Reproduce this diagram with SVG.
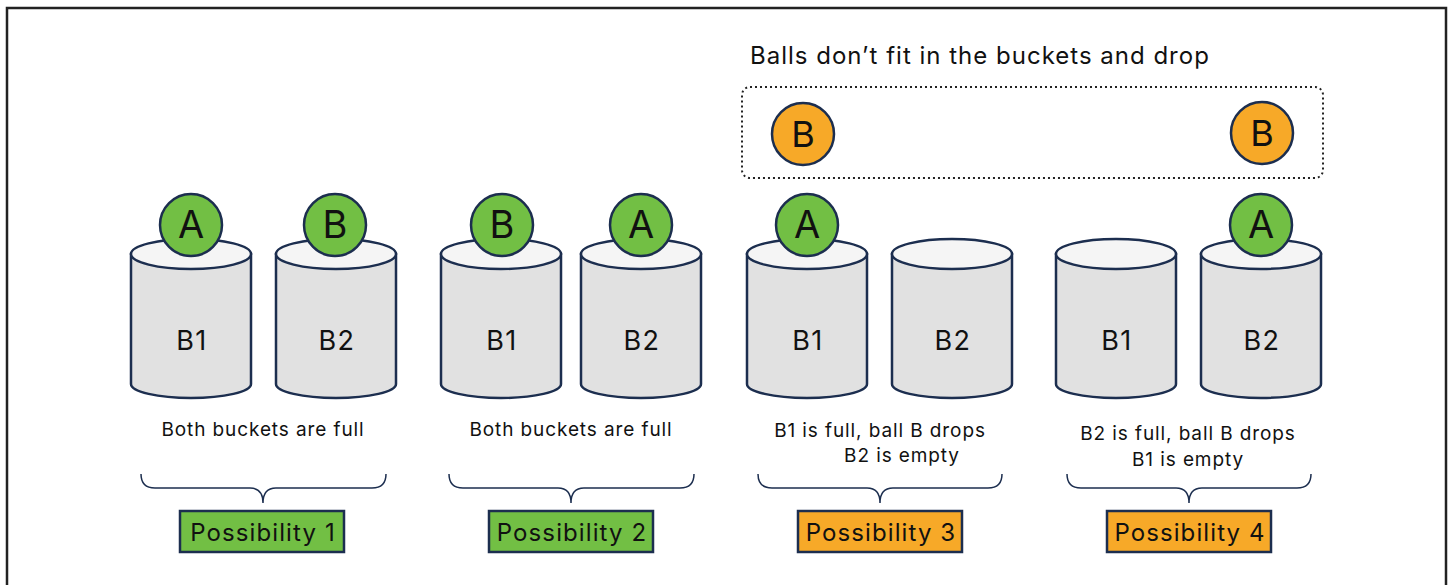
<svg xmlns="http://www.w3.org/2000/svg" width="1453" height="585" viewBox="0 0 1453 585">
  <defs>
    <style>
      text { font-family: Inter, "Liberation Sans", Arial, sans-serif; fill: #111; }
      .frame { fill: #fff; stroke: #222; stroke-width: 2.5; }
      .body { fill: #e1e1e1; stroke: #1c2e4f; stroke-width: 2.5; }
      .lid { fill: #f5f5f5; stroke: #1c2e4f; stroke-width: 2.5; }
      .ball-g { fill: #72bf44; stroke: #1c2e4f; stroke-width: 2.5; }
      .ball-o { fill: #f7a928; stroke: #1c2e4f; stroke-width: 2.5; }
      .ballt { font-size: 38px; text-anchor: middle; }
      .ballo { font-size: 36px; text-anchor: middle; }
      .bk { font-size: 27px; letter-spacing: 1.5px; text-anchor: middle; }
      .cap { font-size: 19px; letter-spacing: 0.9px; text-anchor: middle; }
      .title { font-size: 24px; letter-spacing: 1px; }
      .brace { fill: none; stroke: #1c2e4f; stroke-width: 1.5; }
      .tag-g { fill: #72bf44; stroke: #1c2e4f; stroke-width: 2.5; }
      .tag-o { fill: #f7a928; stroke: #1c2e4f; stroke-width: 2.5; }
      .tagt { font-size: 24px; letter-spacing: 1.1px; text-anchor: middle; }
      .drop { fill: none; stroke: #222; stroke-width: 2; stroke-dasharray: 2 3; }
    </style>
    <!-- bucket: cylinder 120 wide, lid centred at y=254 -->
    <g id="bucket">
      <path class="body" d="M0,254 L0,384 A60,14 0 0 0 120,384 L120,254 Z"/>
      <ellipse class="lid" cx="60" cy="254" rx="60" ry="15"/>
    </g>
  </defs>

  <rect class="frame" x="7" y="8" width="1439" height="600"/>

  <!-- dropped balls -->
  <g id="drop-zone">
    <text class="title" x="750" y="64">Balls don’t fit in the buckets and drop</text>
    <rect class="drop" x="742" y="87" width="581" height="91" rx="8"/>
    <circle class="ball-o" cx="803" cy="134" r="31"/>
    <text class="ballo" x="803" y="147">B</text>
    <circle class="ball-o" cx="1262" cy="133" r="31"/>
    <text class="ballo" x="1262" y="146">B</text>
  </g>

  <!-- possibility 1 -->
  <g id="p1-b1">
    <use href="#bucket" x="131"/>
    <text class="bk" x="192" y="350">B1</text>
    <circle class="ball-g" cx="191" cy="225" r="31"/>
    <text class="ballt" x="191" y="238">A</text>
  </g>
  <g id="p1-b2">
    <use href="#bucket" x="276"/>
    <text class="bk" x="337" y="350">B2</text>
    <circle class="ball-g" cx="335" cy="225" r="31"/>
    <text class="ballt" x="335" y="238">B</text>
  </g>

  <!-- possibility 2 -->
  <g id="p2-b1">
    <use href="#bucket" x="441"/>
    <text class="bk" x="502" y="350">B1</text>
    <circle class="ball-g" cx="502" cy="225" r="31"/>
    <text class="ballt" x="502" y="238">B</text>
  </g>
  <g id="p2-b2">
    <use href="#bucket" x="581"/>
    <text class="bk" x="642" y="350">B2</text>
    <circle class="ball-g" cx="641" cy="225" r="31"/>
    <text class="ballt" x="641" y="238">A</text>
  </g>

  <!-- possibility 3 -->
  <g id="p3-b1">
    <use href="#bucket" x="747"/>
    <text class="bk" x="808" y="350">B1</text>
    <circle class="ball-g" cx="807" cy="225" r="31"/>
    <text class="ballt" x="807" y="238">A</text>
  </g>
  <g id="p3-b2">
    <use href="#bucket" x="892"/>
    <text class="bk" x="953" y="350">B2</text>
  </g>

  <!-- possibility 4 -->
  <g id="p4-b1">
    <use href="#bucket" x="1056"/>
    <text class="bk" x="1117" y="350">B1</text>
  </g>
  <g id="p4-b2">
    <use href="#bucket" x="1201"/>
    <text class="bk" x="1262" y="350">B2</text>
    <circle class="ball-g" cx="1261" cy="225" r="31"/>
    <text class="ballt" x="1261" y="238">A</text>
  </g>

  <!-- captions -->
  <g id="captions">
    <text class="cap" x="263" y="436">Both buckets are full</text>
    <text class="cap" x="571" y="436">Both buckets are full</text>
    <text class="cap" x="880" y="437">B1 is full, ball B drops</text>
    <text class="cap" x="902" y="462">B2 is empty</text>
    <text class="cap" x="1188" y="440">B2 is full, ball B drops</text>
    <text class="cap" x="1188" y="466">B1 is empty</text>
  </g>

  <!-- braces -->
  <g id="connectors">
    <path class="brace" d="M141,474 Q141,488 155,488 L250,488 Q263,488 263,503 Q263,488 276,488 L372,488 Q386,488 386,474"/>
    <path class="brace" d="M449,474 Q449,488 463,488 L558,488 Q571,488 571,503 Q571,488 584,488 L680,488 Q694,488 694,474"/>
    <path class="brace" d="M758,474 Q758,488 772,488 L867,488 Q880,488 880,503 Q880,488 893,488 L988,488 Q1002,488 1002,474"/>
    <path class="brace" d="M1067,474 Q1067,488 1081,488 L1176,488 Q1189,488 1189,503 Q1189,488 1202,488 L1297,488 Q1311,488 1311,474"/>
  </g>

  <!-- outcome tags -->
  <g id="tag-1">
    <rect class="tag-g" x="180" y="511" width="164" height="41"/>
    <text class="tagt" x="263" y="541">Possibility 1</text>
  </g>
  <g id="tag-2">
    <rect class="tag-g" x="489" y="511" width="164" height="41"/>
    <text class="tagt" x="572" y="541">Possibility 2</text>
  </g>
  <g id="tag-3">
    <rect class="tag-o" x="798" y="511" width="164" height="41"/>
    <text class="tagt" x="881" y="541">Possibility 3</text>
  </g>
  <g id="tag-4">
    <rect class="tag-o" x="1107" y="511" width="164" height="41"/>
    <text class="tagt" x="1190" y="541">Possibility 4</text>
  </g>
</svg>
